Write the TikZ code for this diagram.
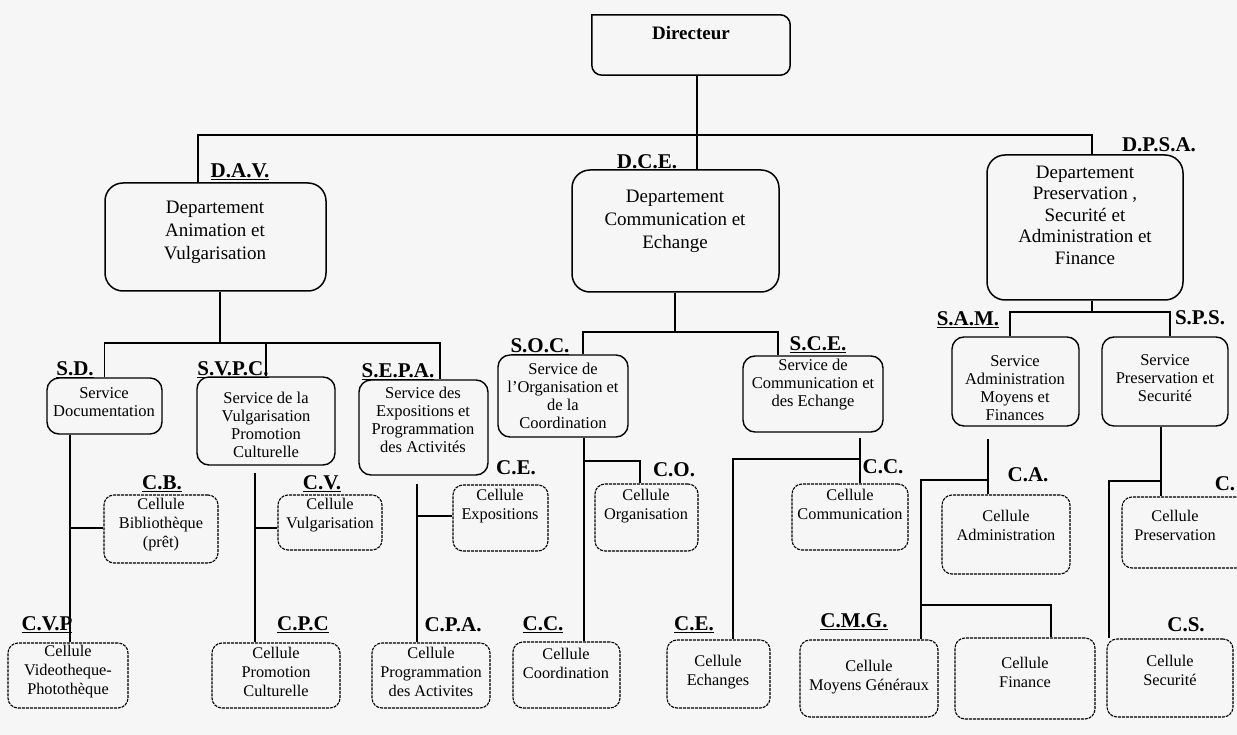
\documentclass[tikz,border=0pt]{standalone}
\usepackage{fontspec}
\setmainfont{Liberation Serif}
\newcommand{\dirfont}{\fontsize{19}{22}\selectfont\bfseries}
\newcommand{\deptfont}{\fontsize{19}{23}\selectfont}
\newcommand{\servfont}{\fontsize{16.5}{18}\selectfont}
\newcommand{\cellfont}{\fontsize{16.3}{19}\selectfont}
\newcommand{\acrfont}{\fontsize{21}{23}\selectfont\bfseries}

\begin{document}
\begin{tikzpicture}[x=1pt,y=-1pt,
    dept/.style={draw,line width=1.5pt,rounded corners=18pt,inner sep=0pt},
    serv/.style={draw,line width=1.4pt,rounded corners=12pt,inner sep=0pt},
    cell/.style={draw,line width=1.1pt,dash pattern=on 3pt off 1pt,rounded corners=10pt,inner sep=0pt},
    dtxt/.style={align=center,font=\deptfont,inner sep=0pt},
    stxt/.style={align=center,font=\servfont,inner sep=0pt},
    ctxt/.style={align=center,font=\cellfont,inner sep=0pt},
    acr/.style={font=\acrfont,inner sep=0pt},
    link/.style={line width=1.3pt}]
  \useasboundingbox (0,0) rectangle (1237,735);
  \fill[gray!7] (0,0) rectangle (1237,735);

  % direction
  \node[minimum width=198pt,minimum height=60pt,inner sep=0pt] (dir) at (691,45) {};
  \draw[line width=1.5pt] (dir.north west) [rounded corners=10pt] -- (dir.south west)
       -- (dir.south east) -- (dir.north east) [sharp corners] -- cycle;
  \node[font=\dirfont,inner sep=0pt] (dirt) at (691,33) {Directeur};

  % departements
  \node[dept,minimum width=221pt,minimum height=108pt] (dav) at (215.5,237) {};
  \node[dtxt] (davt) at (215,232) {Departement\\Animation et\\Vulgarisation};
  \node[dept,minimum width=207pt,minimum height=122pt] (dce) at (675.5,231) {};
  \node[dtxt] (dcet) at (675,221) {Departement\\Communication et\\Echange};
  \node[dept,minimum width=196pt,minimum height=145pt] (dpsa) at (1085,227.5) {};
  \node[dtxt,font=\fontsize{19}{21.5}\selectfont] (dpsat) at (1085,215)
       {Departement\\Preservation ,\\Securité et\\Administration et\\Finance};

  % services
  \node[serv,minimum width=115pt,minimum height=56pt] (sd) at (104.5,406) {};
  \node[stxt] (sdt) at (104,402) {Service\\Documentation};
  \node[serv,minimum width=138pt,minimum height=88pt] (svpc) at (266,421) {};
  \node[stxt] (svpct) at (266,425) {Service de la\\Vulgarisation\\Promotion\\Culturelle};
  \node[serv,minimum width=129pt,minimum height=95pt] (sepa) at (423.5,427.5) {};
  \node[stxt] (sepat) at (423,420) {Service des\\Expositions et\\Programmation\\des Activités};
  \node[serv,minimum width=130pt,minimum height=82pt] (soc) at (563,396) {};
  \node[stxt] (soct) at (563,396) {Service de\\l'Organisation et\\de la\\Coordination};
  \node[serv,minimum width=140pt,minimum height=76pt] (sce) at (813,394) {};
  \node[stxt] (scet) at (813,385) {Service de\\Communication et\\des Echange};
  \node[serv,minimum width=127pt,minimum height=89pt] (sam) at (1015.5,381.5) {};
  \node[stxt] (samt) at (1015,388) {Service\\Administration\\Moyens et\\Finances};
  \node[serv,minimum width=126pt,minimum height=89pt] (sps) at (1165,381.5) {};
  \node[stxt] (spst) at (1165,378) {Service\\Preservation et\\Securité};

  % cellules
  \node[cell,minimum width=114pt,minimum height=68pt] (cb) at (161,529) {};
  \node[ctxt] (cbt) at (161,525) {Cellule\\Bibliothèque\\(prêt)};
  \node[cell,minimum width=104pt,minimum height=55pt] (cv) at (330,522.5) {};
  \node[ctxt] (cvt) at (330,515) {Cellule\\Vulgarisation};
  \node[cell,minimum width=95pt,minimum height=66pt] (cexp) at (500.5,518) {};
  \node[ctxt] (cexpt) at (500,506) {Cellule\\Expositions};
  \node[cell,minimum width=103pt,minimum height=67pt] (co) at (646.5,517.5) {};
  \node[ctxt] (cot) at (646,506) {Cellule\\Organisation};
  \node[cell,minimum width=116pt,minimum height=66pt] (ccom) at (850,517) {};
  \node[ctxt] (ccomt) at (850,504) {Cellule\\Communication};
  \node[cell,minimum width=128pt,minimum height=79pt] (ca) at (1006,534.5) {};
  \node[ctxt] (cat) at (1006,525) {Cellule\\Administration};
  \node[cell,minimum width=124pt,minimum height=71pt] (cpres) at (1184,532.5) {};
  \node[ctxt] (cprest) at (1175,525) {Cellule\\Preservation};
  \node[cell,minimum width=120pt,minimum height=65pt] (cvp) at (68,675.5) {};
  \node[ctxt] (cvpt) at (68,672) {Cellule\\Videotheque-\\Photothèque};
  \node[cell,minimum width=128pt,minimum height=65pt] (cpc) at (276,675.5) {};
  \node[ctxt] (cpct) at (276,672) {Cellule\\Promotion\\Culturelle};
  \node[cell,minimum width=118pt,minimum height=65pt] (cpa) at (431,675.5) {};
  \node[ctxt] (cpat) at (431,672) {Cellule\\Programmation\\des Activites};
  \node[cell,minimum width=107pt,minimum height=66pt] (ccoo) at (566.5,675) {};
  \node[ctxt] (ccoot) at (566,663) {Cellule\\Coordination};
  \node[cell,minimum width=103pt,minimum height=68pt] (cech) at (718.5,674) {};
  \node[ctxt] (cecht) at (718,672) {Cellule\\Echanges};
  \node[cell,minimum width=138pt,minimum height=77pt] (cmg) at (869,678.5) {};
  \node[ctxt] (cmgt) at (869,677) {Cellule\\Moyens Généraux};
  \node[cell,minimum width=140pt,minimum height=81pt] (cfin) at (1025,678.5) {};
  \node[ctxt] (cfint) at (1025,672) {Cellule\\Finance};
  \node[cell,minimum width=126pt,minimum height=78pt] (cs) at (1170,678) {};
  \node[ctxt] (cst) at (1170,670) {Cellule\\Securité};

  % sigles
  \node[acr] (davl) at (240,172) {\underline{D.A.V.}};
  \node[acr] (dcel) at (647,162) {D.C.E.};
  \node[acr] (dpsal) at (1159,145) {D.P.S.A.};
  \node[acr] (sdl) at (75,370) {\underline{S.D.}};
  \node[acr] (svpcl) at (233,370) {\underline{S.V.P.C.}};
  \node[acr] (sepal) at (398,372) {\underline{S.E.P.A.}};
  \node[acr] (socl) at (540,347) {\underline{S.O.C.}};
  \node[acr] (scel) at (818,345) {\underline{S.C.E.}};
  \node[acr] (saml) at (968,320) {\underline{S.A.M.}};
  \node[acr] (spsl) at (1200,318) {S.P.S.};
  \node[acr] (cbl) at (162,484) {\underline{C.B.}};
  \node[acr] (cvl) at (322,484) {\underline{C.V.}};
  \node[acr] (cexpl) at (516,468) {C.E.};
  \node[acr] (col) at (674,470) {C.O.};
  \node[acr] (ccoml) at (883,467) {C.C.};
  \node[acr] (cal) at (1028,475) {C.A.};
  \node[acr] (cpresl) at (1225,484) {C.};
  \node[acr] (cvpl) at (47,625) {\underline{C.V.P}};
  \node[acr] (cpcl) at (303,625) {\underline{C.P.C}};
  \node[acr] (cpal) at (453,625) {C.P.A.};
  \node[acr] (ccool) at (543,625) {\underline{C.C.}};
  \node[acr] (cechl) at (694,625) {\underline{C.E.}};
  \node[acr] (cmgl) at (854,622) {\underline{C.M.G.}};
  \node[acr] (csl) at (1186,625) {C.S.};

  % liaisons
  \coordinate (bus) at (697,135);
  \coordinate (b1) at (198,135);
  \coordinate (b3) at (1092,135);
  \draw[link] (dir.south -| bus) -- (dce.north -| bus);
  \draw[link] (dav.north -| b1) -- (b1) -- (b3) -- (dpsa.north -| b3);

  \coordinate (j1) at (220,343);
  \coordinate (j1r) at (440,343);
  \draw[link] (dav.south -| j1) -- (j1);
  \draw[link] (sd.north) |- (j1r) -- (sepa.north -| j1r);
  \draw[link] (svpc.north) -- (svpc.north |- j1r);

  \coordinate (j2) at (675,332);
  \coordinate (j2l) at (583,332);
  \coordinate (j2r) at (778,332);
  \draw[link] (dce.south -| j2) -- (j2);
  \draw[link] (soc.north -| j2l) -- (j2l) -- (j2r) -- (sce.north -| j2r);

  \coordinate (j3l) at (1010,312);
  \coordinate (j3r) at (1170,312);
  \draw[link] (dpsa.south -| b3) -- (j3l -| b3);
  \draw[link] (sam.north -| j3l) -- (j3l) -- (j3r) -- (sps.north -| j3r);

  \coordinate (v1) at (70,528);
  \draw[link] (sd.south -| v1) -- (cvp.north -| v1);
  \draw[link] (v1) -- (v1 -| cb.west);

  \coordinate (v2) at (255,528);
  \draw[link] ([yshift=-7pt]svpc.south -| v2) -- (cpc.north -| v2);
  \draw[link] (v2) -- (v2 -| cv.west);

  \coordinate (v3) at (417,516);
  \draw[link] ([yshift=-8pt]sepa.south -| v3) -- (cpa.north -| v3);
  \draw[link] (v3) -- (v3 -| cexp.west);

  \coordinate (v4) at (584,461);
  \coordinate (v4r) at (640,461);
  \draw[link] (soc.south -| v4) -- (ccoo.north -| v4);
  \draw[link] (v4) -- (v4r) -- (co.north -| v4r);

  \coordinate (v5) at (860,459);
  \coordinate (v5l) at (733,459);
  \draw[link] ([yshift=-5pt]sce.south -| v5) -- (ccom.north -| v5);
  \draw[link] (v5) -- (v5l) -- (cech.north -| v5l);

  \coordinate (v6) at (988,480);
  \coordinate (v6l) at (921,480);
  \coordinate (v6f) at (1051,605);
  \draw[link] ([yshift=-12pt]sam.south -| v6) -- (ca.north -| v6);
  \draw[link] (v6) -- (v6l) -- (cmg.north -| v6l);
  \draw[link] (v6l |- v6f) -- (v6f) -- (cfin.north -| v6f);

  \coordinate (v7) at (1161,481);
  \coordinate (v7l) at (1109,481);
  \draw[link] (sps.south -| v7) -- (cpres.north -| v7);
  \draw[link] (v7) -- (v7l) -- (cs.north -| v7l);
\end{tikzpicture}
\end{document}
